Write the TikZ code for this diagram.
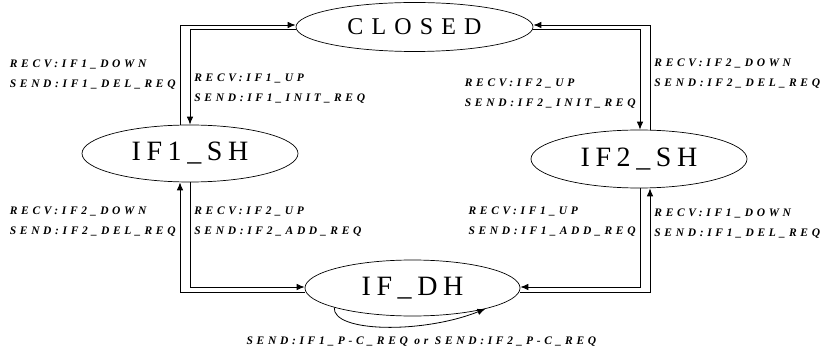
\documentclass[tikz,border=0pt]{standalone}
\usepackage{fontspec}
\setmainfont{Liberation Serif}
\newfontfamily\statefont[LetterSpace=20]{Liberation Serif}
\newfontfamily\closedfont[LetterSpace=34]{Liberation Serif}
\newfontfamily\labelfont[LetterSpace=32]{Liberation Serif}
\usetikzlibrary{arrows.meta,shapes.geometric}

\begin{document}
\begin{tikzpicture}[x=1pt,y=-1pt,
		state/.style={draw,ellipse,inner sep=0pt,line width=0.7pt,
			font=\statefont\fontsize{28}{28}\selectfont},
		edge/.style={-{Latex[length=8pt,width=6.5pt]},line width=0.8pt},
		lbl/.style={font=\labelfont\bfseries\itshape\fontsize{11.5}{20}\selectfont,
			align=left,inner sep=4pt}]
	\useasboundingbox (0,0) rectangle (821,355);
	\node[state,minimum width=237pt,minimum height=49pt,font=\closedfont\fontsize{24}{24}\selectfont] (closed) at (414.5,27) {CLOSED};
	\node[state,minimum width=216pt,minimum height=57pt] (ifsha) at (190,153.5) {IF1\_SH};
	\node[state,minimum width=216pt,minimum height=58pt] (ifshb) at (639,159) {IF2\_SH};
	\node[state,minimum width=215pt,minimum height=56pt] (ifdh) at (412.5,288) {IF\_DH};
	% CLOSED <-> IF1_SH
	\draw[edge] ([xshift=-10pt]ifsha.north) |- node[lbl,left,pos=0.25] {RECV:IF1\_DOWN\\SEND:IF1\_DEL\_REQ} ([yshift=2pt]closed.west);
	\draw[edge] ([yshift=-2pt]closed.west) -| node[lbl,right,pos=0.81] {RECV:IF1\_UP\\SEND:IF1\_INIT\_REQ} (ifsha.north);
	% CLOSED <-> IF2_SH
	\draw[edge] ([xshift=11pt]ifshb.north) |- node[lbl,right,pos=0.27] {RECV:IF2\_DOWN\\SEND:IF2\_DEL\_REQ} ([yshift=2pt]closed.east);
	\draw[edge] ([yshift=-2pt]closed.east) -| node[lbl,left,pos=0.82] {RECV:IF2\_UP\\SEND:IF2\_INIT\_REQ} ([xshift=1pt]ifshb.north);
	% IF_DH <-> IF1_SH
	\draw[edge] ([yshift=-4pt]ifdh.west) -| node[lbl,left,pos=0.82] {RECV:IF2\_DOWN\\SEND:IF2\_DEL\_REQ} ([xshift=-10pt]ifsha.south);
	\draw[edge] (ifsha.south) |- node[lbl,right,pos=0.19] {RECV:IF2\_UP\\SEND:IF2\_ADD\_REQ} ([yshift=1pt]ifdh.west);
	% IF_DH <-> IF2_SH
	\draw[edge] ([yshift=-4pt]ifdh.east) -| node[lbl,right,pos=0.83] {RECV:IF1\_DOWN\\SEND:IF1\_DEL\_REQ} ([xshift=11pt]ifshb.south);
	\draw[edge] ([xshift=1pt]ifshb.south) |- node[lbl,left,pos=0.17] {RECV:IF1\_UP\\SEND:IF1\_ADD\_REQ} ([yshift=1pt]ifdh.east);
	% self loop
	\draw[edge] (ifdh.194) .. controls +(-2,25) and +(-63,25) .. node[lbl,below=6pt,xshift=36pt,midway] {SEND:IF1\_P-C\_REQ or SEND:IF2\_P-C\_REQ} (ifdh.344);
\end{tikzpicture}
\end{document}
